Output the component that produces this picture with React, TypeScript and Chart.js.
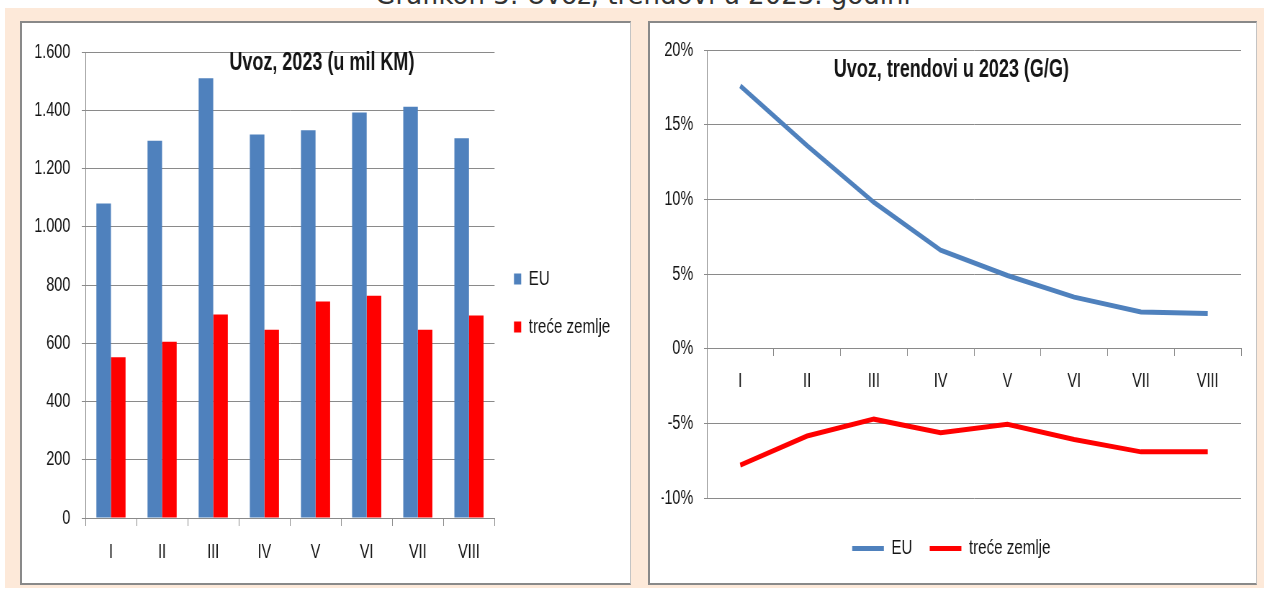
import React, { useEffect, useRef } from "react";
import { Chart, registerables } from "chart.js";

Chart.register(...registerables);

// ---- data ----
const pageTitle = "Grafikon 3: Uvoz, trendovi u 2023. godini";
const months = ["I", "II", "III", "IV", "V", "VI", "VII", "VIII"];
const seriesNames = ["EU", "treće zemlje"];

const amountTitle = "Uvoz, 2023 (u mil KM)";
const amountEU = [1080, 1295, 1510, 1317, 1331, 1392, 1412, 1304];
const amountThird = [552, 605, 699, 646, 743, 763, 646, 695];
const amountMin = 0;
const amountMax = 1600;
const amountStep = 200;

const trendTitle = "Uvoz, trendovi u 2023 (G/G)";
const trendEU = [17.6, 13.6, 9.8, 6.6, 4.9, 3.45, 2.45, 2.35];
const trendThird = [-7.8, -5.85, -4.72, -5.63, -5.06, -6.08, -6.91, -6.91];
const trendMin = -10;
const trendMax = 20;
const trendStep = 5;

// ---- styles ----
const FONT = "'Liberation Sans', Arial, sans-serif";
const BLUE = "#4F81BD";
const RED = "#FF0000";
const GRID = "#8a8a8a";
const TEXT = "#151515";
const SQUEEZE = 0.72;

const fmtThousands = (v: number) => {
  if (v >= 1000) {
    const t = Math.floor(v / 1000);
    const r = String(v % 1000).padStart(3, "0");
    return `${t}.${r}`;
  }
  return String(v);
};

function amountConfig(): any {
  return {
    type: "bar",
    data: {
      labels: months,
      datasets: [
        {
          label: seriesNames[0],
          data: amountEU,
          backgroundColor: BLUE,
          borderWidth: 0,
          categoryPercentage: 0.57,
          barPercentage: 1,
        },
        {
          label: seriesNames[1],
          data: amountThird,
          backgroundColor: RED,
          borderWidth: 0,
          categoryPercentage: 0.57,
          barPercentage: 1,
        },
      ],
    },
    options: {
      responsive: false,
      animation: false,
      layout: { padding: { left: 6, right: 17, top: 0, bottom: 0 } },
      plugins: {
        title: {
          display: true,
          text: amountTitle,
          color: TEXT,
          font: { family: FONT, size: 25, weight: "bold" },
          padding: { top: 25.5, bottom: -26.5 },
        },
        legend: {
          position: "right",
          align: "center",
          labels: {
            boxWidth: 10,
            boxHeight: 11,
            padding: 27,
            color: TEXT,
            font: { family: FONT, size: 21 },
          },
        },
        tooltip: { enabled: false },
      },
      scales: {
        x: {
          type: "category",
          offset: true,
          grid: { offset: true, drawOnChartArea: false, tickLength: 8, color: GRID },
          border: { color: GRID },
          ticks: { padding: 14, color: TEXT, font: { family: FONT, size: 20 } },
          afterFit: (s: any) => {
            s.height = 65;
          },
        },
        y: {
          type: "linear",
          min: amountMin,
          max: amountMax,
          ticks: {
            stepSize: amountStep,
            padding: 16,
            color: TEXT,
            font: { family: FONT, size: 20 },
            callback: (v: any) => fmtThousands(Number(v)),
          },
          grid: { color: GRID, tickLength: 5 },
          border: { color: GRID },
          afterFit: (s: any) => {
            s.width = 82;
          },
        },
      },
    },
  };
}

function trendConfig(): any {
  return {
    type: "line",
    data: {
      labels: months,
      datasets: [
        {
          label: seriesNames[0],
          data: trendEU,
          borderColor: BLUE,
          backgroundColor: BLUE,
          borderWidth: 5,
          pointRadius: 0,
          tension: 0,
          fill: false,
        },
        {
          label: seriesNames[1],
          data: trendThird,
          borderColor: RED,
          backgroundColor: RED,
          borderWidth: 5,
          pointRadius: 0,
          tension: 0,
          fill: false,
        },
      ],
    },
    options: {
      responsive: false,
      animation: false,
      layout: { padding: { left: 16, right: 21, top: 0, bottom: 14 } },
      plugins: {
        title: {
          display: true,
          text: trendTitle,
          color: TEXT,
          font: { family: FONT, size: 25, weight: "bold" },
          padding: { top: 32.5, bottom: -35.5 },
        },
        legend: {
          position: "bottom",
          align: "center",
          labels: {
            boxWidth: 44,
            boxHeight: 5,
            padding: 24,
            color: TEXT,
            font: { family: FONT, size: 21 },
            generateLabels: (chart: any) => {
              const items = (Chart.defaults as any).plugins.legend.labels.generateLabels(chart);
              return items.map((it: any) => ({ ...it, lineWidth: 0, fillStyle: it.strokeStyle }));
            },
          },
        },
        tooltip: { enabled: false },
      },
      scales: {
        x: {
          type: "category",
          position: { y: 0 },
          offset: true,
          grid: { offset: true, drawOnChartArea: false, tickLength: 7, color: GRID },
          border: { color: GRID },
          ticks: { padding: 14, color: TEXT, font: { family: FONT, size: 20 } },
        },
        y: {
          type: "linear",
          min: trendMin,
          max: trendMax,
          ticks: {
            stepSize: trendStep,
            padding: 15,
            color: TEXT,
            font: { family: FONT, size: 20 },
            callback: (v: any) => `${v}%`,
          },
          grid: { color: GRID, tickLength: 4 },
          border: { color: GRID },
          afterFit: (s: any) => {
            s.width = 63;
          },
        },
        gapB: {
          type: "linear",
          axis: "x",
          position: "bottom",
          display: true,
          ticks: { display: false },
          grid: { display: false },
          border: { display: false },
          afterFit: (s: any) => {
            s.height = 16;
          },
        },
      },
    },
  };
}

function ChartCanvas({ make, width, height }: { make: () => any; width: number; height: number }) {
  const ref = useRef<HTMLCanvasElement>(null);
  useEffect(() => {
    const chart = new Chart(ref.current as HTMLCanvasElement, make());
    return () => chart.destroy();
  }, []);
  return <canvas ref={ref} width={width} height={height} style={{ display: "block" }} />;
}

function Panel({ left, width, make }: { left: number; width: number; make: () => any }) {
  const innerW = width - 3;
  const canvasW = Math.round(innerW / SQUEEZE);
  return (
    <div
      style={{
        position: "absolute",
        left,
        top: 21,
        width,
        height: 564,
        boxSizing: "border-box",
        background: "#ffffff",
        borderTop: "2px solid #898989",
        borderLeft: "2px solid #898989",
        borderBottom: "2px solid #898989",
        borderRight: "1px solid #c4c4c4",
        overflow: "hidden",
      }}
    >
      <div
        style={{
          position: "absolute",
          left: 0,
          top: 0,
          width: canvasW,
          height: 560,
          transform: `scaleX(${SQUEEZE})`,
          transformOrigin: "0 0",
        }}
      >
        <ChartCanvas make={make} width={canvasW} height={560} />
      </div>
    </div>
  );
}

export default function App() {
  return (
    <div
      style={{
        position: "fixed",
        left: 0,
        top: 0,
        width: 1264,
        height: 589,
        background: "#ffffff",
        overflow: "hidden",
      }}
    >
      <div
        style={{
          position: "absolute",
          left: 5,
          top: 8,
          width: 1259,
          height: 580,
          background: "#FDE9D9",
        }}
      />
      <div
        style={{
          position: "absolute",
          left: 0,
          top: -20,
          width: 1286,
          textAlign: "center",
          fontFamily: "'DejaVu Sans', Verdana, sans-serif",
          fontSize: 26,
          lineHeight: "30px",
          color: "#333333",
          whiteSpace: "nowrap",
        }}
      >
        {pageTitle}
      </div>
      <Panel left={20} width={611} make={amountConfig} />
      <Panel left={648} width={609} make={trendConfig} />
    </div>
  );
}
